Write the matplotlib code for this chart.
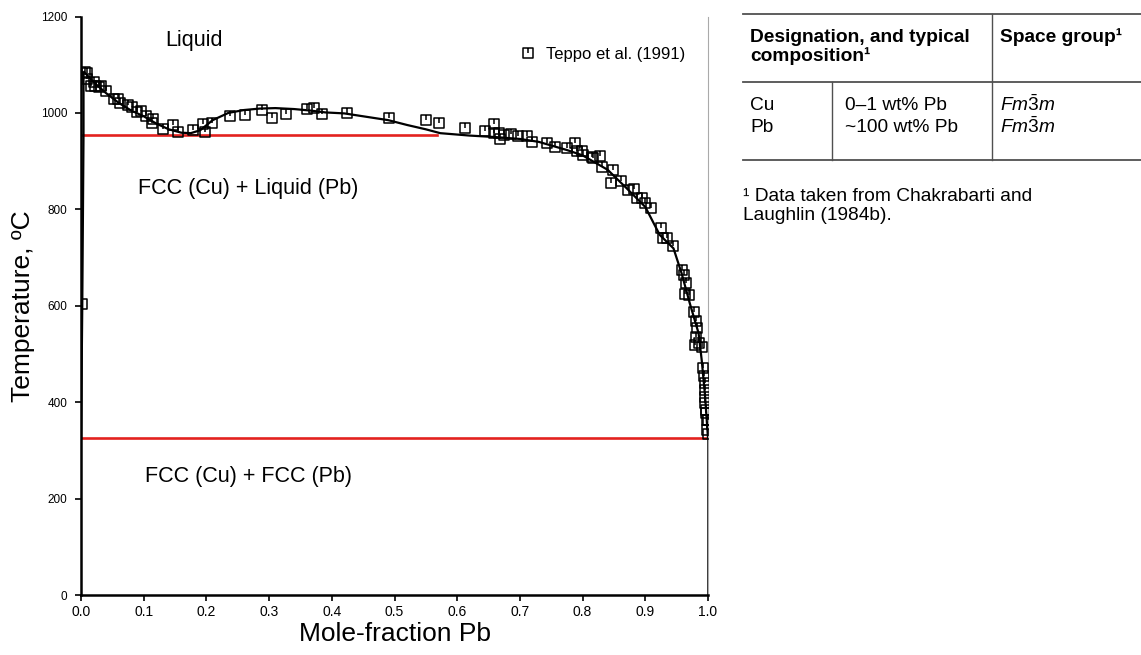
import numpy as np
import matplotlib
matplotlib.use('Agg')
import matplotlib.pyplot as plt
from matplotlib.path import Path
from matplotlib.lines import Line2D

plt.rcParams['font.family'] = ['Liberation Sans', 'DejaVu Sans']
plt.rcParams['mathtext.fontset'] = 'custom'
plt.rcParams['mathtext.rm'] = 'Liberation Sans'
plt.rcParams['mathtext.it'] = 'Liberation Sans:italic'

# Teppo et al. (1991) measurements: mole-fraction Pb, temperature (C)
teppo_x = [0.006, 0.010, 0.009, 0.016, 0.020, 0.022, 0.028, 0.032, 0.040, 0.052,
           0.059, 0.062, 0.075, 0.081, 0.089, 0.096, 0.104, 0.115, 0.114, 0.131,
           0.146, 0.154, 0.179, 0.195, 0.198, 0.209, 0.237, 0.262, 0.288, 0.304,
           0.327, 0.360, 0.371, 0.384, 0.425, 0.492, 0.550, 0.571, 0.612, 0.644,
           0.658, 0.659, 0.666, 0.669, 0.674, 0.686, 0.697, 0.711, 0.719, 0.743,
           0.756, 0.775, 0.788, 0.791, 0.801, 0.817, 0.799, 0.815, 0.827, 0.831,
           0.848, 0.846, 0.862, 0.873, 0.882, 0.886, 0.894, 0.900, 0.909, 0.925,
           0.929, 0.935, 0.944, 0.958, 0.961, 0.965, 0.963, 0.970, 0.977, 0.981,
           0.983, 0.981, 0.979, 0.986, 0.990, 0.992, 0.994, 0.995, 0.995, 0.995,
           0.996, 0.997, 0.997, 0.998, 1.000, 0.998, 1.000, 0.002]
teppo_t = [1085, 1083, 1070, 1056, 1065, 1056, 1054, 1056, 1046, 1029,
           1028, 1021, 1016, 1012, 1002, 1005, 994, 987, 980, 966,
           975, 960, 965, 976, 961, 980, 994, 996, 1006, 990,
           998, 1008, 1010, 997, 999, 989, 985, 980, 969, 963,
           977, 958, 958, 945, 954, 956, 952, 953, 940, 937,
           930, 927, 937, 920, 913, 906, 920, 908, 911, 888,
           882, 855, 859, 840, 842, 823, 824, 813, 802, 761,
           740, 740, 723, 674, 664, 648, 624, 622, 588, 569,
           553, 535, 519, 522, 515, 470, 454, 439, 425, 411,
           398, 384, 378, 363, 363, 342, 335, 603]

# assessed liquidus / miscibility-gap curve
liq_x = [0.005, 0.02, 0.04, 0.06, 0.08, 0.10, 0.12, 0.14, 0.16, 0.175, 0.19,
         0.21, 0.235, 0.26, 0.285, 0.31, 0.34, 0.365, 0.39, 0.42, 0.46, 0.49,
         0.52, 0.55, 0.573, 0.62, 0.66, 0.70, 0.73, 0.775, 0.80, 0.84, 0.87,
         0.90, 0.923, 0.945, 0.958, 0.971, 0.985, 0.99, 0.995, 0.9995, 1.0]
liq_t = [1085, 1064, 1041, 1021, 1005, 993, 978, 966, 959, 958, 964,
         985, 1000, 1006, 1009, 1010, 1008, 1005, 1001, 999, 991, 985,
         975, 966, 958, 953, 950, 946, 940, 923, 912, 882, 844,
         805, 747, 719, 667, 605, 543, 487, 418, 335, 326]

# Cu-side solidus / solvus
cu_x = [0.0, 0.004, 0.004, 0.002, 0.0]
cu_t = [1085, 1083, 955, 600, 326]

# Pb-side
pb_x = [1.0, 1.0]
pb_t = [326, 0]

monotectic_t = 955
monotectic_x = [0.0, 0.568]
eutectic_t = 326
eutectic_x = [0.0, 1.0]

tbl_header = ['Designation, and typical\ncomposition\u00b9', 'Space group\u00b9']
tbl_phase = ['Cu', 'Pb']
tbl_comp = ['0\u20131 wt% Pb', '~100 wt% Pb']
tbl_sg = [r'$Fm\bar{3}m$', r'$Fm\bar{3}m$']
tbl_note = '\u00b9 Data taken from Chakrabarti and\nLaughlin (1984b).'

# square marker with a short tick from the top edge
verts = [(-1, -1), (1, -1), (1, 1), (-1, 1), (-1, -1), (0, 1), (0, 0.0)]
codes = [Path.MOVETO, Path.LINETO, Path.LINETO, Path.LINETO, Path.CLOSEPOLY,
         Path.MOVETO, Path.LINETO]
sq_tick = Path(verts, codes)

fig = plt.figure(figsize=(11.41, 6.55), dpi=100)
ax = fig.add_axes([0.071, 0.0916, 0.5495, 0.8832])

ax.plot(monotectic_x, [monotectic_t] * 2, color='#e3221f', lw=1.9, zorder=2)
ax.plot(eutectic_x, [eutectic_t] * 2, color='#e3221f', lw=1.9, zorder=2)
ax.plot(liq_x, liq_t, color='black', lw=1.6, zorder=3)
ax.plot(cu_x, cu_t, color='black', lw=1.6, zorder=3)
ax.plot(pb_x, pb_t, color='black', lw=1.8, zorder=3)
ax.plot(teppo_x, teppo_t, ls='none', marker=sq_tick, ms=7.5, mfc='none',
        mec='black', mew=1.1, zorder=4, label='Teppo et al. (1991)')

ax.set_xlim(0, 1.0)
ax.set_ylim(0, 1200)
ax.set_xticks(np.arange(0, 1.01, 0.1))
ax.set_xticklabels(['%.1f' % v for v in np.arange(0, 1.01, 0.1)], fontsize=10)
ax.set_yticks(range(0, 1201, 200))
ax.tick_params(axis='y', labelsize=8.5, length=4, width=1.2, direction='out', pad=6)
ax.tick_params(axis='x', length=4, width=1.2, direction='out')
ax.spines['top'].set_visible(False)
ax.spines['right'].set_color('#aaaaaa')
ax.spines['left'].set_linewidth(1.8)
ax.spines['bottom'].set_linewidth(1.8)
ax.set_xlabel('Mole-fraction Pb', fontsize=19, labelpad=2)
ax.set_ylabel('Temperature, \u00baC', fontsize=19, labelpad=4)

ax.text(0.134, 1151, 'Liquid', fontsize=15.5, va='center')
ax.text(0.091, 844, 'FCC (Cu) + Liquid (Pb)', fontsize=15.5, va='center')
ax.text(0.102, 245, 'FCC (Cu) + FCC (Pb)', fontsize=15.5, va='center')

ax.legend(loc='upper right', frameon=False, fontsize=12, handletextpad=0.3,
          handlelength=1.6, bbox_to_anchor=(0.98, 0.965), borderaxespad=0.2)

# table on the right, in figure pixels
W, H = 1141.0, 655.0
def fx(px):
    return px / W
def fy(py):
    return 1 - py / H

lc = '#505050'
for y0 in (14, 82, 160):
    fig.add_artist(Line2D([fx(743), fx(1141)], [fy(y0), fy(y0)], color=lc, lw=1.3))
fig.add_artist(Line2D([fx(992), fx(992)], [fy(14), fy(160)], color=lc, lw=1.0))
fig.add_artist(Line2D([fx(832), fx(832)], [fy(82), fy(160)], color=lc, lw=1.0))

fig.text(fx(750), fy(47), tbl_header[0], fontsize=13.8, fontweight='bold',
         va='center', linespacing=1.15)
fig.text(fx(1000), fy(37), tbl_header[1], fontsize=13.8, fontweight='bold',
         va='center')
for i in range(2):
    yy = fy(105 + 22 * i)
    fig.text(fx(750), yy, tbl_phase[i], fontsize=13.8, va='center')
    fig.text(fx(845), yy, tbl_comp[i], fontsize=13.8, va='center')
    fig.text(fx(1000), yy, tbl_sg[i], fontsize=13.8, va='center')
fig.text(fx(743), fy(206), tbl_note, fontsize=13.8, va='center', linespacing=1.15)

fig.savefig('out.png', dpi=100)
plt.close()
